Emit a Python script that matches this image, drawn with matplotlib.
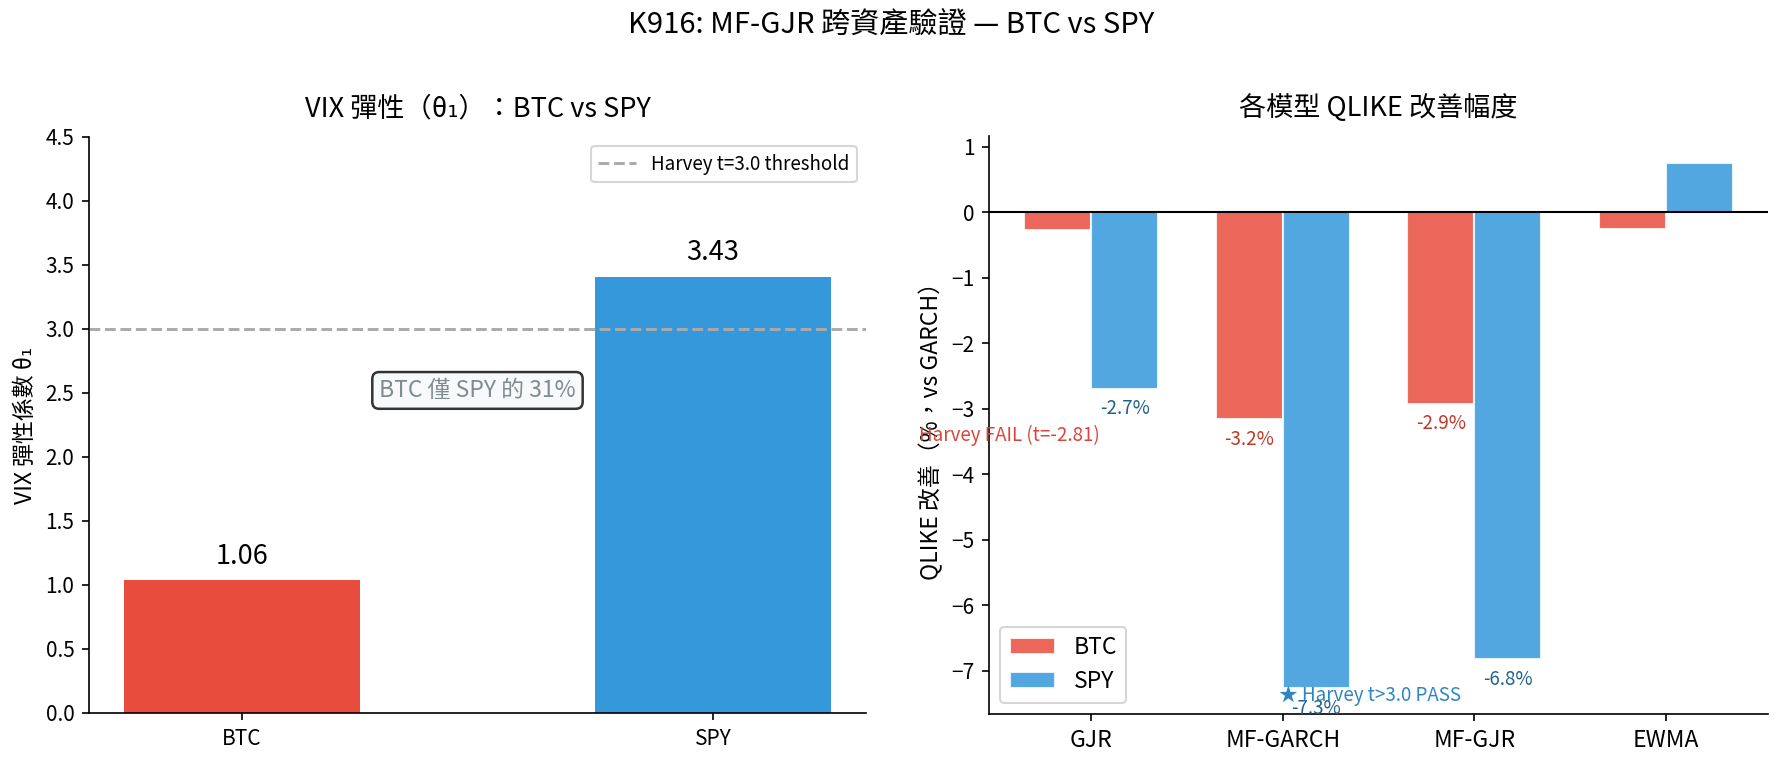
import numpy as np
import matplotlib
matplotlib.use("Agg")
import matplotlib.pyplot as plt

plt.rcParams["font.family"] = ["Noto Sans CJK TC", "DejaVu Sans"]
plt.rcParams["axes.unicode_minus"] = True

# left panel: VIX elasticity
assets = ["BTC", "SPY"]
theta_vals = [1.04, 3.41]
theta_labels = ["1.06", "3.43"]
harvey_threshold = 3.0

# right panel: QLIKE improvement vs GARCH (%)
models = ["GJR", "MF-GARCH", "MF-GJR", "EWMA"]
btc_qlike = [-0.27, -3.16, -2.92, -0.25]
spy_qlike = [-2.69, -7.26, -6.82, 0.76]

RED = "#e74c3c"
BLUE = "#3498db"

fig = plt.figure(figsize=(1783 / 150, 764 / 150), dpi=150)
ax1 = fig.add_axes([0.0499, 0.0668, 0.4358, 0.7539])
ax2 = fig.add_axes([0.5547, 0.0654, 0.4369, 0.7561])

# --- left ---
x = np.arange(len(assets))
ax1.bar(x, theta_vals, width=0.5, color=[RED, BLUE])
for xi, v, lab in zip(x, theta_vals, theta_labels):
    ax1.text(xi, v + 0.08, lab, ha="center", va="bottom", fontsize=13)
ax1.axhline(harvey_threshold, color="#aaaaaa", linestyle="--", linewidth=1.4,
            label="Harvey t=3.0 threshold")
ax1.text(0.5, 2.52, "BTC 僅 SPY 的 31%", ha="center", va="center", fontsize=11,
         color="#7f8c8d",
         bbox=dict(boxstyle="round,pad=0.3", facecolor="#f8f9fa",
                   edgecolor="#333333", linewidth=1.2))
ax1.set_xticks(x)
ax1.set_xticklabels(assets)
ax1.set_ylim(0, 4.5)
ax1.set_yticks(np.arange(0, 4.51, 0.5))
ax1.set_ylabel("VIX 彈性係數 θ₁", fontsize=11)
ax1.set_title("VIX 彈性（θ₁）：BTC vs SPY", fontsize=13, pad=10)
ax1.legend(loc="upper right", fontsize=9)
ax1.spines["top"].set_visible(False)
ax1.spines["right"].set_visible(False)

# --- right ---
xm = np.arange(len(models))
w = 0.35
ax2.bar(xm - w / 2, btc_qlike, width=w, color=RED, alpha=0.85,
        edgecolor="white", label="BTC")
ax2.bar(xm + w / 2, spy_qlike, width=w, color=BLUE, alpha=0.85,
        edgecolor="white", label="SPY")
for xi, v in zip(xm, btc_qlike):
    if abs(v) > 1:
        ax2.text(xi - w / 2, v - 0.15, f"{v:.1f}%", ha="center", va="top",
                 fontsize=9, color="#c0392b")
for xi, v in zip(xm, spy_qlike):
    if abs(v) > 1:
        ax2.text(xi + w / 2, v - 0.15, f"{v:.1f}%", ha="center", va="top",
                 fontsize=9, color="#1f618d")
ax2.axhline(0, color="black", linewidth=1)
ax2.text(-0.43, -3.4, "Harvey FAIL (t=-2.81)", ha="center", va="center",
         fontsize=9, color="#d9453a")
ax2.text(0.98, -7.38, "★ Harvey t>3.0 PASS", ha="left", va="center",
         fontsize=9, color="#2e86c1")
ax2.set_xticks(xm)
ax2.set_xticklabels(models, fontsize=11)
ax2.set_ylabel("QLIKE 改善（%，vs GARCH）", fontsize=11)
ax2.set_title("各模型 QLIKE 改善幅度", fontsize=13, pad=10)
ax2.legend(loc="lower left", fontsize=11)
ax2.spines["top"].set_visible(False)
ax2.spines["right"].set_visible(False)

fig.suptitle("K916: MF-GJR 跨資產驗證 — BTC vs SPY", fontsize=14, y=0.967,
             va="center")

plt.savefig("out.png", dpi=150)
plt.close()
